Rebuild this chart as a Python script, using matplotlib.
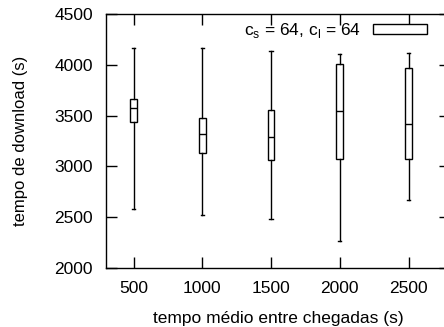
import matplotlib
matplotlib.use('Agg')
import matplotlib.pyplot as plt
from matplotlib.patches import Patch

plt.rcParams['font.family'] = ['Liberation Sans', 'DejaVu Sans']
plt.rcParams['mathtext.fontset'] = 'custom'
plt.rcParams['mathtext.rm'] = 'Liberation Sans'

# tempo medio entre chegadas (s)
chegadas = [500, 1000, 1500, 2000, 2500]
# estatisticas
whis_min = [2576, 2524, 2478, 2261, 2671]
q1 = [3438, 3136, 3061, 3074, 3074]
mediana = [3573, 3323, 3294, 3546, 3422]
q3 = [3664, 3480, 3556, 4005, 3966]
whis_max = [4163, 4163, 4136, 4103, 4113]

stats = []
for i in range(len(chegadas)):
    stats.append({'med': mediana[i], 'q1': q1[i], 'q3': q3[i],
                  'whislo': whis_min[i], 'whishi': whis_max[i]})

fig = plt.figure(figsize=(4.44, 3.27), dpi=100)
ax = fig.add_axes([106/444, 1 - 268/327, 343.75/444, 254/327])

lp = dict(color='black', linewidth=1.0)
ax.bxp(stats, positions=chegadas, widths=50, showfliers=False,
       patch_artist=True, manage_ticks=False,
       boxprops=dict(facecolor='white', edgecolor='black', linewidth=1.0),
       medianprops=lp, whiskerprops=lp, capprops=lp)

ax.set_xlim(300, 2800)
ax.set_ylim(2000, 4500)
ax.set_xticks(chegadas)
ax.set_yticks([2000, 2500, 3000, 3500, 4000, 4500])
ax.tick_params(direction='in', length=8, width=1, top=True, right=True,
               labelsize=12.5, pad=9.5)
for s in ax.spines.values():
    s.set_linewidth(1)

ax.set_xlabel('tempo médio entre chegadas (s)', fontsize=12.5, labelpad=11)
ax.set_ylabel('tempo de download (s)', fontsize=12, labelpad=19)

h = Patch(facecolor='white', edgecolor='black', linewidth=1.0)
ax.legend([h], [r'c$_\mathregular{s}$ = 64, c$_\mathregular{l}$ = 64'],
          loc='upper right', bbox_to_anchor=(1 - 23/343.75, 1 - 7/254),
          frameon=False, markerfirst=False, fontsize=12.5,
          handlelength=3.1, handleheight=0.5, handletextpad=0.7,
          borderpad=0, borderaxespad=0)

fig.savefig('out.png', dpi=100)
